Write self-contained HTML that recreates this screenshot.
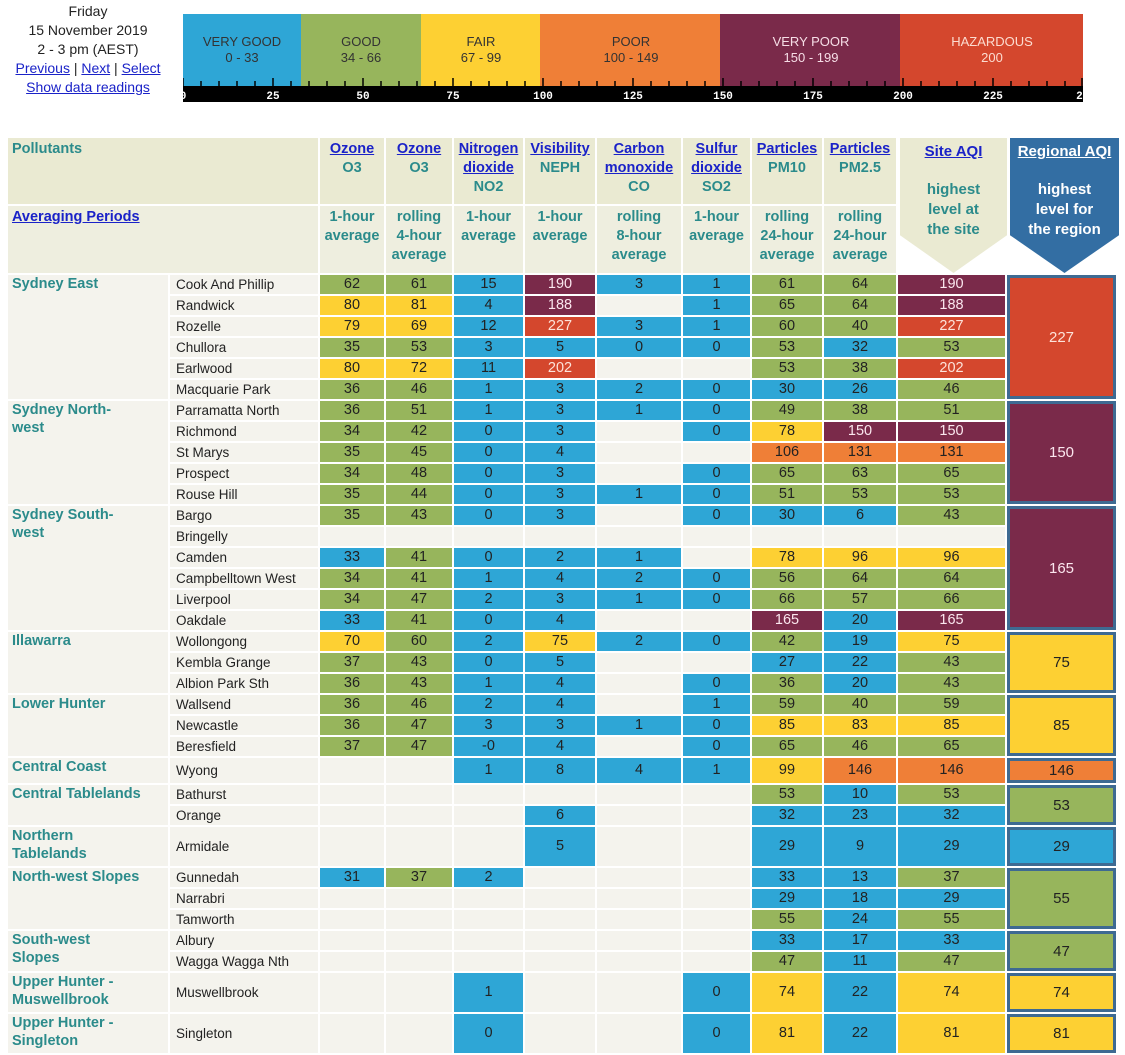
<!DOCTYPE html>
<html><head><meta charset="utf-8"><style>
body{margin:0;width:1125px;height:1051px;overflow:hidden;background:#fff;font-family:"Liberation Sans",Arial,sans-serif;position:relative}
.hd{position:absolute;left:0;width:176px;text-align:center;font-size:14px;line-height:19px;color:#222;top:2px}
a{color:#1a22c8;text-decoration:underline}
table{position:absolute;left:6px;top:136px;border-collapse:separate;border-spacing:2px;table-layout:fixed}
td{padding:0;text-align:center;font-size:14.5px;color:#222;background:#f4f3ed;height:19px;line-height:19px;overflow:hidden;white-space:nowrap}
td.rg{text-align:left;vertical-align:top;font-weight:bold;color:#2b8b8b;font-size:14.5px;padding-left:4px;white-space:normal;line-height:18px}
td.st{text-align:left;padding-left:6px;font-size:13.5px}
.b{background:#2ea6d6}.g{background:#97b55c}.y{background:#fdd033}.o{background:#ef7f37}.p{background:#7a2a4a;color:#fbe6ee}.r{background:#d4472d;color:#fde3da}
td.h{background:#eaead2;color:#2b8b8b;font-weight:bold;font-size:14.5px;line-height:19px;vertical-align:top;padding-top:2px;white-space:nowrap}
td.h2{background:#eeeedf}
td.nb{background:transparent}
td.reg{border:3px solid #3e6a92;font-size:15px;background-clip:padding-box}
.shape{position:absolute;text-align:center;font-weight:bold;font-size:15px;line-height:20px}
</style></head><body>
<div class="hd">Friday<br>15 November 2019<br>2 - 3 pm (AEST)<br><a>Previous</a> | <a>Next</a> | <a>Select</a><br><a>Show data readings</a></div>
<svg style="position:absolute;left:183px;top:14px" width="900" height="88" font-family="Liberation Sans, Arial, sans-serif">
<rect x="0" y="0" width="118" height="72" fill="#2ea6d6"/>
<rect x="118" y="0" width="120" height="72" fill="#97b55c"/>
<rect x="238" y="0" width="120" height="72" fill="#fdd033"/>
<rect x="357" y="0" width="181" height="72" fill="#ef7f37"/>
<rect x="537" y="0" width="181" height="72" fill="#7a2a4a"/>
<rect x="717" y="0" width="183" height="72" fill="#d4472d"/>
<rect x="0" y="72" width="900" height="16" fill="#000"/>
<g font-size="13" text-anchor="middle" fill="#333">
<text x="59" y="32">VERY GOOD</text><text x="59" y="48">0 - 33</text>
<text x="178" y="32">GOOD</text><text x="178" y="48">34 - 66</text>
<text x="298" y="32">FAIR</text><text x="298" y="48">67 - 99</text>
<text x="448" y="32">POOR</text><text x="448" y="48">100 - 149</text>
<text x="628" y="32" fill="#f6dde6">VERY POOR</text><text x="628" y="48" fill="#f6dde6">150 - 199</text>
<text x="809" y="32" fill="#fcdcd0">HAZARDOUS</text><text x="809" y="48" fill="#fcdcd0">200</text>
</g>
<g stroke="#000" stroke-width="1.5">
<path d="M0 64V72M18 67V72M36 67V72M54 67V72M72 67V72M90 64V72M108 67V72M126 67V72M144 67V72M162 67V72M180 64V72M198 67V72M216 67V72M234 67V72M252 67V72M270 64V72M288 67V72M306 67V72M324 67V72M342 67V72M360 64V72M378 67V72M396 67V72M414 67V72M432 67V72M450 64V72M468 67V72M486 67V72M504 67V72M522 67V72M540 64V72M558 67V72M576 67V72M594 67V72M612 67V72M630 64V72M648 67V72M666 67V72M684 67V72M702 67V72M720 64V72M738 67V72M756 67V72M774 67V72M792 67V72M810 64V72M828 67V72M846 67V72M864 67V72M882 67V72M899 64V72"/>
</g>
<g font-family="Liberation Mono, monospace" font-weight="bold" font-size="11" fill="#fff" text-anchor="middle">
<text x="0" y="85">0</text><text x="90" y="85">25</text><text x="180" y="85">50</text><text x="270" y="85">75</text><text x="360" y="85">100</text><text x="450" y="85">125</text><text x="540" y="85">150</text><text x="630" y="85">175</text><text x="720" y="85">200</text><text x="810" y="85">225</text><text x="903" y="85">250</text>
</g>
</svg>

<table>
<colgroup><col style="width:160px"><col style="width:148px"><col style="width:64px"><col style="width:66px"><col style="width:69px"><col style="width:70px"><col style="width:84px"><col style="width:67px"><col style="width:70px"><col style="width:72px"><col style="width:107px"><col style="width:109px"></colgroup>
<tr style="height:66px"><td class="h" colspan="2" style="text-align:left;padding-left:4px">Pollutants</td>
<td class="h"><a>Ozone</a><br>O3</td><td class="h"><a>Ozone</a><br>O3</td><td class="h"><a>Nitrogen</a><br><a>dioxide</a><br>NO2</td><td class="h"><a>Visibility</a><br>NEPH</td><td class="h"><a>Carbon</a><br><a>monoxide</a><br>CO</td><td class="h"><a>Sulfur</a><br><a>dioxide</a><br>SO2</td><td class="h"><a>Particles</a><br>PM10</td><td class="h"><a>Particles</a><br>PM2.5</td><td class="nb"></td><td class="nb"></td></tr>
<tr style="height:67px"><td class="h h2" colspan="2" style="text-align:left;padding-left:4px"><a>Averaging Periods</a></td>
<td class="h h2">1-hour<br>average</td><td class="h h2">rolling<br>4-hour<br>average</td><td class="h h2">1-hour<br>average</td><td class="h h2">1-hour<br>average</td><td class="h h2">rolling<br>8-hour<br>average</td><td class="h h2">1-hour<br>average</td><td class="h h2">rolling<br>24-hour<br>average</td><td class="h h2">rolling<br>24-hour<br>average</td><td class="nb"></td><td class="nb"></td></tr>

<tr><td class="rg" rowspan="6">Sydney East</td><td class="st">Cook And Phillip</td><td class="g">62</td><td class="g">61</td><td class="b">15</td><td class="p">190</td><td class="b">3</td><td class="b">1</td><td class="g">61</td><td class="g">64</td><td class="p">190</td><td class="reg r" rowspan="6">227</td></tr>
<tr><td class="st">Randwick</td><td class="y">80</td><td class="y">81</td><td class="b">4</td><td class="p">188</td><td></td><td class="b">1</td><td class="g">65</td><td class="g">64</td><td class="p">188</td></tr>
<tr><td class="st">Rozelle</td><td class="y">79</td><td class="y">69</td><td class="b">12</td><td class="r">227</td><td class="b">3</td><td class="b">1</td><td class="g">60</td><td class="g">40</td><td class="r">227</td></tr>
<tr><td class="st">Chullora</td><td class="g">35</td><td class="g">53</td><td class="b">3</td><td class="b">5</td><td class="b">0</td><td class="b">0</td><td class="g">53</td><td class="b">32</td><td class="g">53</td></tr>
<tr><td class="st">Earlwood</td><td class="y">80</td><td class="y">72</td><td class="b">11</td><td class="r">202</td><td></td><td></td><td class="g">53</td><td class="g">38</td><td class="r">202</td></tr>
<tr><td class="st">Macquarie Park</td><td class="g">36</td><td class="g">46</td><td class="b">1</td><td class="b">3</td><td class="b">2</td><td class="b">0</td><td class="b">30</td><td class="b">26</td><td class="g">46</td></tr>

<tr><td class="rg" rowspan="5">Sydney North-<br>west</td><td class="st">Parramatta North</td><td class="g">36</td><td class="g">51</td><td class="b">1</td><td class="b">3</td><td class="b">1</td><td class="b">0</td><td class="g">49</td><td class="g">38</td><td class="g">51</td><td class="reg p" rowspan="5">150</td></tr>
<tr><td class="st">Richmond</td><td class="g">34</td><td class="g">42</td><td class="b">0</td><td class="b">3</td><td></td><td class="b">0</td><td class="y">78</td><td class="p">150</td><td class="p">150</td></tr>
<tr><td class="st">St Marys</td><td class="g">35</td><td class="g">45</td><td class="b">0</td><td class="b">4</td><td></td><td></td><td class="o">106</td><td class="o">131</td><td class="o">131</td></tr>
<tr><td class="st">Prospect</td><td class="g">34</td><td class="g">48</td><td class="b">0</td><td class="b">3</td><td></td><td class="b">0</td><td class="g">65</td><td class="g">63</td><td class="g">65</td></tr>
<tr><td class="st">Rouse Hill</td><td class="g">35</td><td class="g">44</td><td class="b">0</td><td class="b">3</td><td class="b">1</td><td class="b">0</td><td class="g">51</td><td class="g">53</td><td class="g">53</td></tr>

<tr><td class="rg" rowspan="6">Sydney South-<br>west</td><td class="st">Bargo</td><td class="g">35</td><td class="g">43</td><td class="b">0</td><td class="b">3</td><td></td><td class="b">0</td><td class="b">30</td><td class="b">6</td><td class="g">43</td><td class="reg p" rowspan="6">165</td></tr>
<tr><td class="st">Bringelly</td><td></td><td></td><td></td><td></td><td></td><td></td><td></td><td></td><td></td></tr>
<tr><td class="st">Camden</td><td class="b">33</td><td class="g">41</td><td class="b">0</td><td class="b">2</td><td class="b">1</td><td></td><td class="y">78</td><td class="y">96</td><td class="y">96</td></tr>
<tr><td class="st">Campbelltown West</td><td class="g">34</td><td class="g">41</td><td class="b">1</td><td class="b">4</td><td class="b">2</td><td class="b">0</td><td class="g">56</td><td class="g">64</td><td class="g">64</td></tr>
<tr><td class="st">Liverpool</td><td class="g">34</td><td class="g">47</td><td class="b">2</td><td class="b">3</td><td class="b">1</td><td class="b">0</td><td class="g">66</td><td class="g">57</td><td class="g">66</td></tr>
<tr><td class="st">Oakdale</td><td class="b">33</td><td class="g">41</td><td class="b">0</td><td class="b">4</td><td></td><td></td><td class="p">165</td><td class="b">20</td><td class="p">165</td></tr>

<tr><td class="rg" rowspan="3">Illawarra</td><td class="st">Wollongong</td><td class="y">70</td><td class="g">60</td><td class="b">2</td><td class="y">75</td><td class="b">2</td><td class="b">0</td><td class="g">42</td><td class="b">19</td><td class="y">75</td><td class="reg y" rowspan="3">75</td></tr>
<tr><td class="st">Kembla Grange</td><td class="g">37</td><td class="g">43</td><td class="b">0</td><td class="b">5</td><td></td><td></td><td class="b">27</td><td class="b">22</td><td class="g">43</td></tr>
<tr><td class="st">Albion Park Sth</td><td class="g">36</td><td class="g">43</td><td class="b">1</td><td class="b">4</td><td></td><td class="b">0</td><td class="g">36</td><td class="b">20</td><td class="g">43</td></tr>

<tr><td class="rg" rowspan="3">Lower Hunter</td><td class="st">Wallsend</td><td class="g">36</td><td class="g">46</td><td class="b">2</td><td class="b">4</td><td></td><td class="b">1</td><td class="g">59</td><td class="g">40</td><td class="g">59</td><td class="reg y" rowspan="3">85</td></tr>
<tr><td class="st">Newcastle</td><td class="g">36</td><td class="g">47</td><td class="b">3</td><td class="b">3</td><td class="b">1</td><td class="b">0</td><td class="y">85</td><td class="y">83</td><td class="y">85</td></tr>
<tr><td class="st">Beresfield</td><td class="g">37</td><td class="g">47</td><td class="b">-0</td><td class="b">4</td><td></td><td class="b">0</td><td class="g">65</td><td class="g">46</td><td class="g">65</td></tr>

<tr style="height:23px"><td class="rg">Central Coast</td><td class="st">Wyong</td><td></td><td></td><td class="b">1</td><td class="b">8</td><td class="b">4</td><td class="b">1</td><td class="y">99</td><td class="o">146</td><td class="o">146</td><td class="reg o">146</td></tr>

<tr><td class="rg" rowspan="2" style="white-space:nowrap">Central Tablelands</td><td class="st">Bathurst</td><td></td><td></td><td></td><td></td><td></td><td></td><td class="g">53</td><td class="b">10</td><td class="g">53</td><td class="reg g" rowspan="2">53</td></tr>
<tr><td class="st">Orange</td><td></td><td></td><td></td><td class="b">6</td><td></td><td></td><td class="b">32</td><td class="b">23</td><td class="b">32</td></tr>

<tr style="height:39px"><td class="rg">Northern<br>Tablelands</td><td class="st">Armidale</td><td></td><td></td><td></td><td class="b">5</td><td></td><td></td><td class="b">29</td><td class="b">9</td><td class="b">29</td><td class="reg b">29</td></tr>

<tr><td class="rg" rowspan="3" style="white-space:nowrap">North-west Slopes</td><td class="st">Gunnedah</td><td class="b">31</td><td class="g">37</td><td class="b">2</td><td></td><td></td><td></td><td class="b">33</td><td class="b">13</td><td class="g">37</td><td class="reg g" rowspan="3">55</td></tr>
<tr><td class="st">Narrabri</td><td></td><td></td><td></td><td></td><td></td><td></td><td class="b">29</td><td class="b">18</td><td class="b">29</td></tr>
<tr><td class="st">Tamworth</td><td></td><td></td><td></td><td></td><td></td><td></td><td class="g">55</td><td class="b">24</td><td class="g">55</td></tr>

<tr><td class="rg" rowspan="2">South-west<br>Slopes</td><td class="st">Albury</td><td></td><td></td><td></td><td></td><td></td><td></td><td class="b">33</td><td class="b">17</td><td class="b">33</td><td class="reg g" rowspan="2">47</td></tr>
<tr><td class="st">Wagga Wagga Nth</td><td></td><td></td><td></td><td></td><td></td><td></td><td class="g">47</td><td class="b">11</td><td class="g">47</td></tr>

<tr style="height:39px"><td class="rg">Upper Hunter -<br>Muswellbrook</td><td class="st">Muswellbrook</td><td></td><td></td><td class="b">1</td><td></td><td></td><td class="b">0</td><td class="y">74</td><td class="b">22</td><td class="y">74</td><td class="reg y">74</td></tr>
<tr style="height:39px"><td class="rg">Upper Hunter -<br>Singleton</td><td class="st">Singleton</td><td></td><td></td><td class="b">0</td><td></td><td></td><td class="b">0</td><td class="y">81</td><td class="b">22</td><td class="y">81</td><td class="reg y">81</td></tr>
</table>

<div class="shape" style="left:900px;top:138px;width:107px;height:135px;background:#eaead2;color:#2b8b8b;clip-path:polygon(0 0,100% 0,100% 72%,50% 100%,0 72%)"><div style="padding-top:4px"><a>Site AQI</a></div><div style="margin-top:18px">highest<br>level at<br>the site</div></div>
<div class="shape" style="left:1010px;top:138px;width:109px;height:135px;background:#336ea3;color:#fff;clip-path:polygon(0 0,100% 0,100% 72%,50% 100%,0 72%)"><div style="padding-top:4px"><a style="color:#fff">Regional AQI</a></div><div style="margin-top:18px">highest<br>level for<br>the region</div></div>
</body></html>
